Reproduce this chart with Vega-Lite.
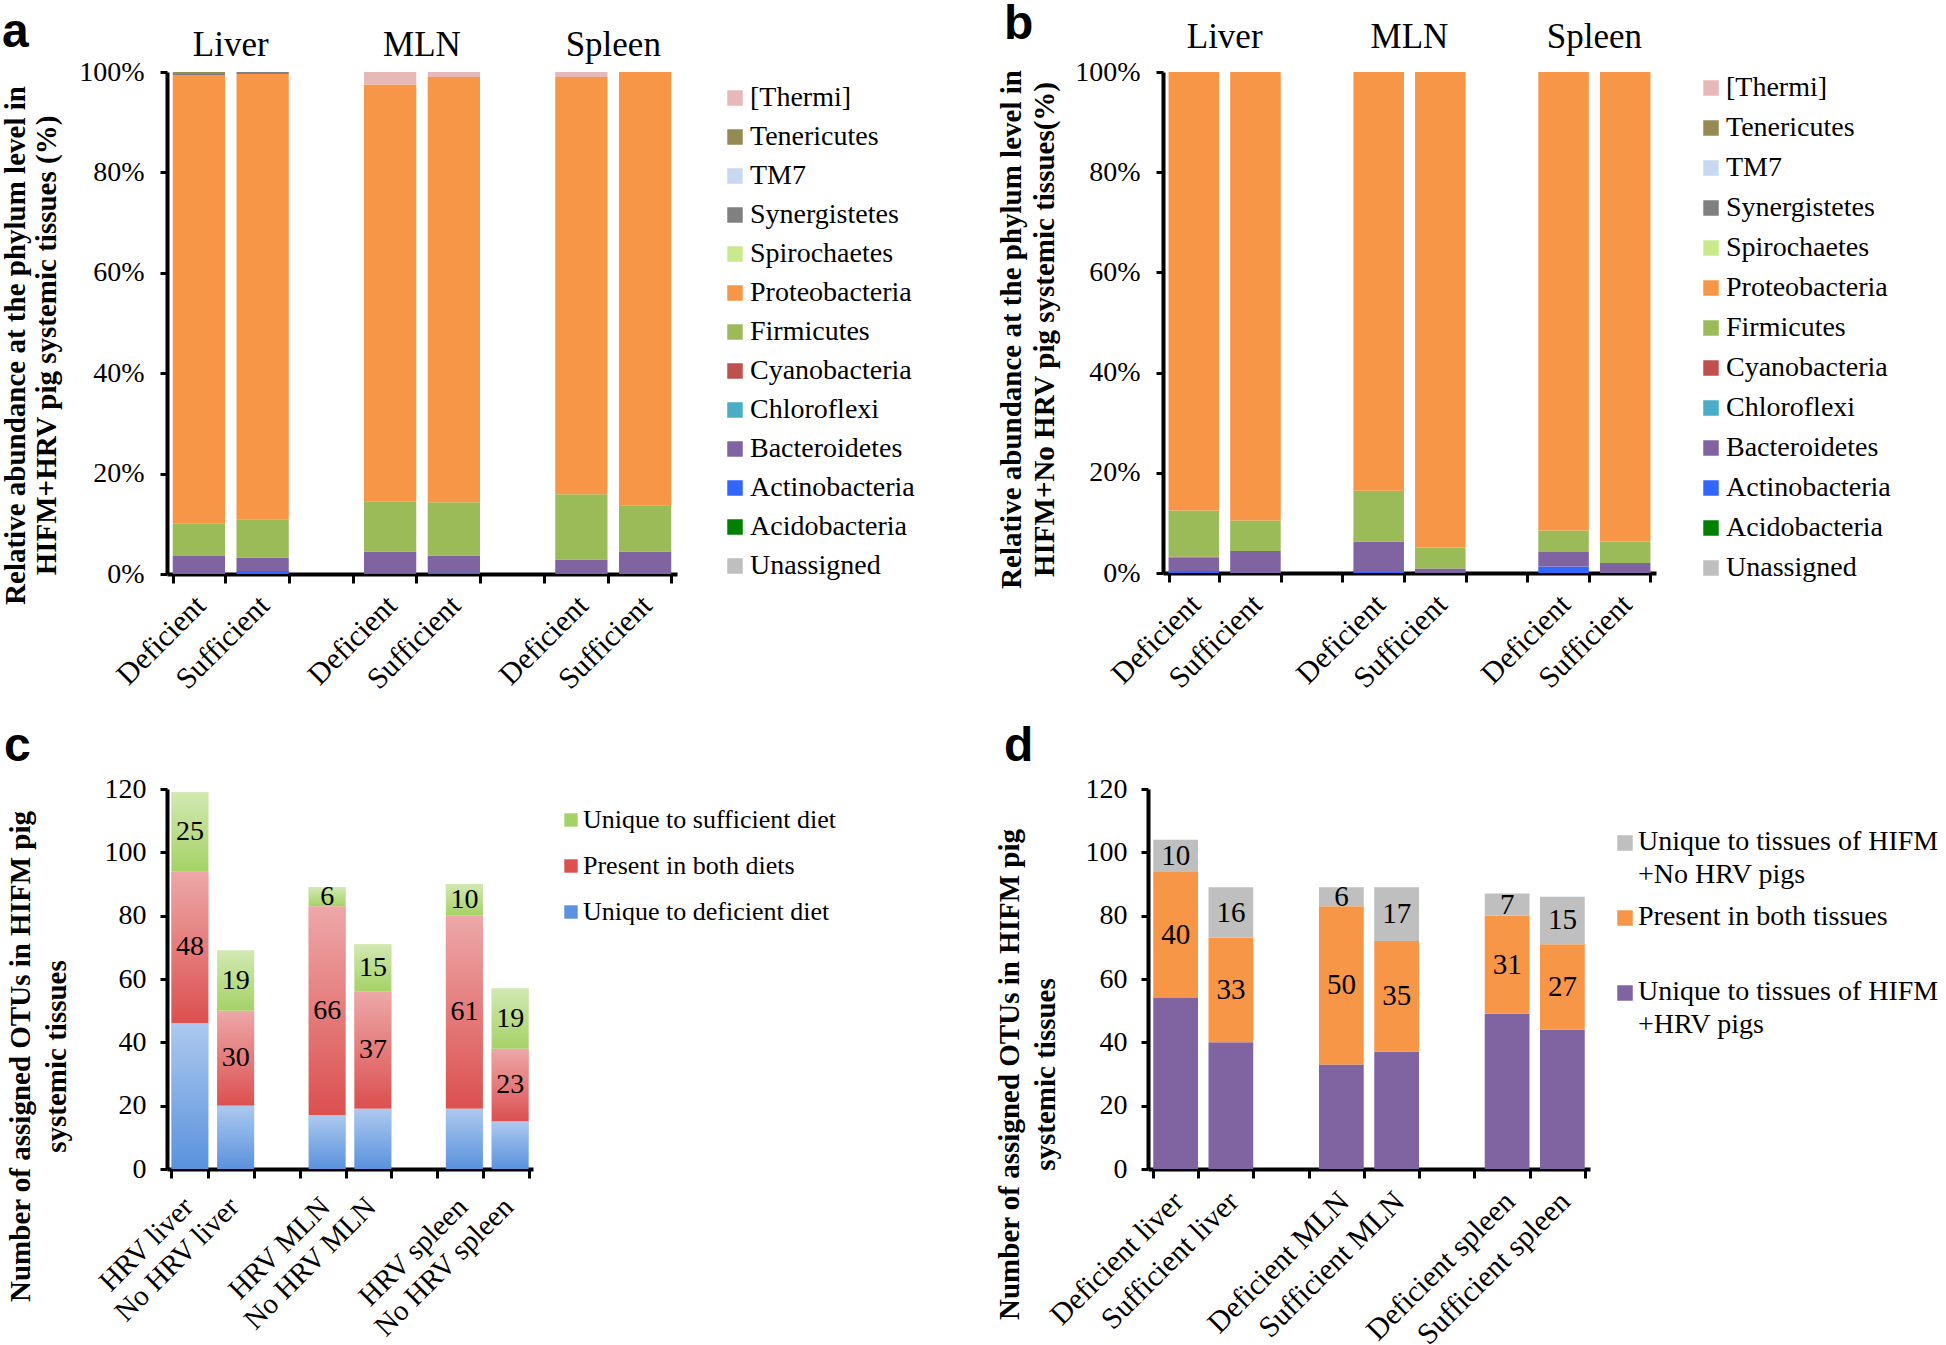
{
  "$schema": "https://vega.github.io/schema/vega-lite/v6.json",
  "padding": 0,
  "background": "white",
  "config": {
    "view": {"stroke": null},
    "font": "Liberation Serif",
    "axis": {"grid": false, "domainColor": "#000", "tickColor": "#000", "labelColor": "#000", "titleColor": "#000", "labelFont": "Liberation Serif", "titleFont": "Liberation Serif", "labelLimit": 0},
    "legend": {"title": null, "symbolType": "square", "symbolStrokeWidth": 0, "labelFont": "Liberation Serif", "labelColor": "#000", "labelLimit": 0},
    "title": {"font": "Liberation Sans", "fontSize": 48, "fontWeight": "bold", "anchor": "start", "frame": "group", "offset": 0, "color": "#000", "baseline": "top"}
  },
  "spacing": 28,
  "resolve": {"scale": {"color": "independent", "x": "independent", "y": "independent"}, "legend": {"color": "independent"}},
  "vconcat": [
    {
      "resolve": {"scale": {"color": "independent", "x": "independent", "y": "independent"}, "legend": {"color": "independent"}},
      "hconcat": [
        {
          "width": 510, "height": 502,
          "title": {"text": "a", "dx": -165, "dy": 33},
          "data": {"values": [
            {"slot": "Liver Deficient", "phylum": "Bacteroidetes", "v": 3.6, "k": 4},
            {"slot": "Liver Deficient", "phylum": "Firmicutes", "v": 6.5, "k": 7},
            {"slot": "Liver Deficient", "phylum": "Proteobacteria", "v": 89.3, "k": 8},
            {"slot": "Liver Deficient", "phylum": "Synergistetes", "v": 0.2, "k": 10},
            {"slot": "Liver Deficient", "phylum": "Tenericutes", "v": 0.4, "k": 12},
            {"slot": "Liver Sufficient", "phylum": "Actinobacteria", "v": 0.6, "k": 3},
            {"slot": "Liver Sufficient", "phylum": "Bacteroidetes", "v": 2.7, "k": 4},
            {"slot": "Liver Sufficient", "phylum": "Firmicutes", "v": 7.6, "k": 7},
            {"slot": "Liver Sufficient", "phylum": "Proteobacteria", "v": 88.7, "k": 8},
            {"slot": "Liver Sufficient", "phylum": "Synergistetes", "v": 0.4, "k": 10},
            {"slot": "MLN Deficient", "phylum": "Actinobacteria", "v": 0.2, "k": 3},
            {"slot": "MLN Deficient", "phylum": "Bacteroidetes", "v": 4.3, "k": 4},
            {"slot": "MLN Deficient", "phylum": "Firmicutes", "v": 10.0, "k": 7},
            {"slot": "MLN Deficient", "phylum": "Proteobacteria", "v": 83.0, "k": 8},
            {"slot": "MLN Deficient", "phylum": "[Thermi]", "v": 2.5, "k": 13},
            {"slot": "MLN Sufficient", "phylum": "Actinobacteria", "v": 0.3, "k": 3},
            {"slot": "MLN Sufficient", "phylum": "Bacteroidetes", "v": 3.4, "k": 4},
            {"slot": "MLN Sufficient", "phylum": "Firmicutes", "v": 10.6, "k": 7},
            {"slot": "MLN Sufficient", "phylum": "Proteobacteria", "v": 84.7, "k": 8},
            {"slot": "MLN Sufficient", "phylum": "[Thermi]", "v": 1.0, "k": 13},
            {"slot": "Spleen Deficient", "phylum": "Bacteroidetes", "v": 2.9, "k": 4},
            {"slot": "Spleen Deficient", "phylum": "Firmicutes", "v": 13.0, "k": 7},
            {"slot": "Spleen Deficient", "phylum": "Proteobacteria", "v": 83.1, "k": 8},
            {"slot": "Spleen Deficient", "phylum": "[Thermi]", "v": 1.0, "k": 13},
            {"slot": "Spleen Sufficient", "phylum": "Bacteroidetes", "v": 4.5, "k": 4},
            {"slot": "Spleen Sufficient", "phylum": "Firmicutes", "v": 9.2, "k": 7},
            {"slot": "Spleen Sufficient", "phylum": "Proteobacteria", "v": 86.3, "k": 8}
          ]},
          "layer": [
            {
              "mark": {"type": "bar"},
              "encoding": {
                "x": {"field": "slot", "type": "nominal",
                  "scale": {"domain": ["Liver Deficient", "Liver Sufficient", "gap1", "MLN Deficient", "MLN Sufficient", "gap2", "Spleen Deficient", "Spleen Sufficient"], "paddingInner": 0.18, "paddingOuter": 0.09},
                  "axis": {"title": null, "labelExpr": "(datum.value == 'Liver Deficient' || datum.value == 'MLN Deficient' || datum.value == 'Spleen Deficient') ? 'Deficient' : (datum.value == 'Liver Sufficient' || datum.value == 'MLN Sufficient' || datum.value == 'Spleen Sufficient') ? 'Sufficient' : ''", "labelAngle": -45, "labelFontSize": 30, "labelPadding": 7, "labelOffset": -9, "tickBand": "extent", "tickSize": 9, "tickWidth": 3, "domainWidth": 4}},
                "y": {"field": "v", "type": "quantitative", "stack": "zero", "scale": {"domain": [0, 100], "nice": false},
                  "axis": {"values": [0, 20, 40, 60, 80, 100], "labelExpr": "datum.value + '%'", "labelFontSize": 28, "tickSize": 7, "tickWidth": 3, "domainWidth": 4, "labelPadding": 16,
                    "title": ["Relative abundance at the phylum level in", "HIFM+HRV pig systemic tissues (%)"], "titleFontSize": 29, "titleFontWeight": "bold", "titleLineHeight": 31, "titleX": -137, "titleY": 273, "titleAngle": -90, "titleBaseline": "bottom", "titleAlign": "center"}},
                "color": {"field": "phylum", "type": "nominal",
                  "scale": {"domain": ["[Thermi]", "Tenericutes", "TM7", "Synergistetes", "Spirochaetes", "Proteobacteria", "Firmicutes", "Cyanobacteria", "Chloroflexi", "Bacteroidetes", "Actinobacteria", "Acidobacteria", "Unassigned"],
                    "range": ["#E6B9B8", "#948A54", "#C6D9F1", "#808080", "#C8EA8C", "#F79646", "#9BBB59", "#C0504D", "#4BACC6", "#8064A2", "#3366FF", "#008000", "#BFBFBF"]},
                  "legend": {"orient": "none", "legendX": 554, "legendY": 12, "symbolSize": 240, "labelFontSize": 28, "labelOffset": 1, "rowPadding": 11}},
                "order": {"field": "k", "type": "quantitative"}
              }
            },
            {
              "data": {"values": [{"slot": "Liver Deficient", "g": "Liver"}, {"slot": "MLN Deficient", "g": "MLN"}, {"slot": "Spleen Deficient", "g": "Spleen"}]},
              "mark": {"type": "text", "fontSize": 35, "font": "Liberation Serif", "baseline": "middle", "align": "center", "color": "#000"},
              "encoding": {
                "x": {"field": "slot", "type": "nominal", "bandPosition": 1.11},
                "y": {"datum": 105.4, "type": "quantitative"},
                "text": {"field": "g"}
              }
            }
          ]
        },
        {
          "width": 493, "height": 501,
          "title": {"text": "b", "dx": -159, "dy": 33},
          "data": {"values": [
            {"slot": "Liver Deficient", "phylum": "Actinobacteria", "v": 0.4, "k": 3},
            {"slot": "Liver Deficient", "phylum": "Bacteroidetes", "v": 2.7, "k": 4},
            {"slot": "Liver Deficient", "phylum": "Cyanobacteria", "v": 0.2, "k": 6},
            {"slot": "Liver Deficient", "phylum": "Firmicutes", "v": 9.2, "k": 7},
            {"slot": "Liver Deficient", "phylum": "Proteobacteria", "v": 87.5, "k": 8},
            {"slot": "Liver Sufficient", "phylum": "Bacteroidetes", "v": 4.2, "k": 4},
            {"slot": "Liver Sufficient", "phylum": "Cyanobacteria", "v": 0.2, "k": 6},
            {"slot": "Liver Sufficient", "phylum": "Firmicutes", "v": 6.1, "k": 7},
            {"slot": "Liver Sufficient", "phylum": "Proteobacteria", "v": 89.5, "k": 8},
            {"slot": "MLN Deficient", "phylum": "Actinobacteria", "v": 0.3, "k": 3},
            {"slot": "MLN Deficient", "phylum": "Bacteroidetes", "v": 6.0, "k": 4},
            {"slot": "MLN Deficient", "phylum": "Firmicutes", "v": 10.1, "k": 7},
            {"slot": "MLN Deficient", "phylum": "Proteobacteria", "v": 83.6, "k": 8},
            {"slot": "MLN Sufficient", "phylum": "Bacteroidetes", "v": 0.9, "k": 4},
            {"slot": "MLN Sufficient", "phylum": "Firmicutes", "v": 4.2, "k": 7},
            {"slot": "MLN Sufficient", "phylum": "Proteobacteria", "v": 94.9, "k": 8},
            {"slot": "Spleen Deficient", "phylum": "Actinobacteria", "v": 1.3, "k": 3},
            {"slot": "Spleen Deficient", "phylum": "Bacteroidetes", "v": 2.9, "k": 4},
            {"slot": "Spleen Deficient", "phylum": "Firmicutes", "v": 4.3, "k": 7},
            {"slot": "Spleen Deficient", "phylum": "Proteobacteria", "v": 91.5, "k": 8},
            {"slot": "Spleen Sufficient", "phylum": "Bacteroidetes", "v": 2.0, "k": 4},
            {"slot": "Spleen Sufficient", "phylum": "Firmicutes", "v": 4.3, "k": 7},
            {"slot": "Spleen Sufficient", "phylum": "Proteobacteria", "v": 93.7, "k": 8}
          ]},
          "layer": [
            {
              "mark": {"type": "bar"},
              "encoding": {
                "x": {"field": "slot", "type": "nominal",
                  "scale": {"domain": ["Liver Deficient", "Liver Sufficient", "gap1", "MLN Deficient", "MLN Sufficient", "gap2", "Spleen Deficient", "Spleen Sufficient"], "paddingInner": 0.18, "paddingOuter": 0.09},
                  "axis": {"title": null, "labelExpr": "(datum.value == 'Liver Deficient' || datum.value == 'MLN Deficient' || datum.value == 'Spleen Deficient') ? 'Deficient' : (datum.value == 'Liver Sufficient' || datum.value == 'MLN Sufficient' || datum.value == 'Spleen Sufficient') ? 'Sufficient' : ''", "labelAngle": -45, "labelFontSize": 30, "labelPadding": 7, "labelOffset": -9, "tickBand": "extent", "tickSize": 9, "tickWidth": 3, "domainWidth": 4}},
                "y": {"field": "v", "type": "quantitative", "stack": "zero", "scale": {"domain": [0, 100], "nice": false},
                  "axis": {"values": [0, 20, 40, 60, 80, 100], "labelExpr": "datum.value + '%'", "labelFontSize": 28, "tickSize": 7, "tickWidth": 3, "domainWidth": 4, "labelPadding": 16,
                    "title": ["Relative abundance at the phylum level in", "HIFM+No HRV pig systemic tissues(%)"], "titleFontSize": 29, "titleFontWeight": "bold", "titleLineHeight": 33, "titleX": -137, "titleY": 257, "titleAngle": -90, "titleBaseline": "bottom", "titleAlign": "center"}},
                "color": {"field": "phylum", "type": "nominal",
                  "scale": {"domain": ["[Thermi]", "Tenericutes", "TM7", "Synergistetes", "Spirochaetes", "Proteobacteria", "Firmicutes", "Cyanobacteria", "Chloroflexi", "Bacteroidetes", "Actinobacteria", "Acidobacteria", "Unassigned"],
                    "range": ["#E6B9B8", "#948A54", "#C6D9F1", "#808080", "#C8EA8C", "#F79646", "#9BBB59", "#C0504D", "#4BACC6", "#8064A2", "#3366FF", "#008000", "#BFBFBF"]},
                  "legend": {"orient": "none", "legendX": 534, "legendY": 2, "symbolSize": 240, "labelFontSize": 28, "labelOffset": 1, "rowPadding": 12}},
                "order": {"field": "k", "type": "quantitative"}
              }
            },
            {
              "data": {"values": [{"slot": "Liver Deficient", "g": "Liver"}, {"slot": "MLN Deficient", "g": "MLN"}, {"slot": "Spleen Deficient", "g": "Spleen"}]},
              "mark": {"type": "text", "fontSize": 35, "font": "Liberation Serif", "baseline": "middle", "align": "center", "color": "#000"},
              "encoding": {
                "x": {"field": "slot", "type": "nominal", "bandPosition": 1.11},
                "y": {"datum": 107, "type": "quantitative"},
                "text": {"field": "g"}
              }
            }
          ]
        }
      ],
      "spacing": 486,
      "bounds": "flush"
    },
    {
      "resolve": {"scale": {"color": "independent", "x": "independent", "y": "independent"}, "legend": {"color": "independent"}},
      "hconcat": [
        {
          "width": 366, "height": 380,
          "title": {"text": "c", "dx": -163},
          "data": {"values": [
            {"slot": "HRV liver", "cat": "Unique to deficient diet", "n": 46, "k": 1},
            {"slot": "HRV liver", "cat": "Present in both diets", "n": 48, "k": 2},
            {"slot": "HRV liver", "cat": "Unique to sufficient diet", "n": 25, "k": 3},
            {"slot": "No HRV liver", "cat": "Unique to deficient diet", "n": 20, "k": 1},
            {"slot": "No HRV liver", "cat": "Present in both diets", "n": 30, "k": 2},
            {"slot": "No HRV liver", "cat": "Unique to sufficient diet", "n": 19, "k": 3},
            {"slot": "HRV MLN", "cat": "Unique to deficient diet", "n": 17, "k": 1},
            {"slot": "HRV MLN", "cat": "Present in both diets", "n": 66, "k": 2},
            {"slot": "HRV MLN", "cat": "Unique to sufficient diet", "n": 6, "k": 3},
            {"slot": "No HRV MLN", "cat": "Unique to deficient diet", "n": 19, "k": 1},
            {"slot": "No HRV MLN", "cat": "Present in both diets", "n": 37, "k": 2},
            {"slot": "No HRV MLN", "cat": "Unique to sufficient diet", "n": 15, "k": 3},
            {"slot": "HRV spleen", "cat": "Unique to deficient diet", "n": 19, "k": 1},
            {"slot": "HRV spleen", "cat": "Present in both diets", "n": 61, "k": 2},
            {"slot": "HRV spleen", "cat": "Unique to sufficient diet", "n": 10, "k": 3},
            {"slot": "No HRV spleen", "cat": "Unique to deficient diet", "n": 15, "k": 1},
            {"slot": "No HRV spleen", "cat": "Present in both diets", "n": 23, "k": 2},
            {"slot": "No HRV spleen", "cat": "Unique to sufficient diet", "n": 19, "k": 3}
          ]},
          "transform": [{"stack": "n", "groupby": ["slot"], "sort": [{"field": "k", "order": "ascending"}], "as": ["lo", "hi"]}],
          "layer": [
            {
              "mark": {"type": "bar"},
              "encoding": {
                "x": {"field": "slot", "type": "nominal",
                  "scale": {"domain": ["HRV liver", "No HRV liver", "gap1", "HRV MLN", "No HRV MLN", "gap2", "HRV spleen", "No HRV spleen"], "paddingInner": 0.19, "paddingOuter": 0.095},
                  "axis": {"title": null, "labelExpr": "(datum.value == 'gap1' || datum.value == 'gap2' || !datum.value) ? '' : datum.value", "labelAngle": -45, "labelFontSize": 29, "labelPadding": 14, "labelOffset": -12, "tickBand": "extent", "tickSize": 9, "tickWidth": 3, "domainWidth": 4}},
                "y": {"field": "hi", "type": "quantitative", "scale": {"domain": [0, 120], "nice": false},
                  "axis": {"values": [0, 20, 40, 60, 80, 100, 120], "labelFontSize": 28, "tickSize": 7, "tickWidth": 3, "domainWidth": 4, "labelPadding": 14,
                    "title": ["Number of assigned OTUs in HIFM pig", "systemic tissues"], "titleFontSize": 29, "titleFontWeight": "bold", "titleLineHeight": 36, "titleX": -132, "titleY": 267, "titleAngle": -90, "titleBaseline": "bottom", "titleAlign": "center"}},
                "y2": {"field": "lo"},
                "color": {"field": "cat", "type": "nominal",
                  "scale": {"domain": ["Unique to sufficient diet", "Present in both diets", "Unique to deficient diet"], "range": ["#A5D266", "#DC5050", "#5A92DE"]},
                  "legend": {"orient": "none", "legendX": 391, "legendY": 18, "symbolSize": 180, "labelFontSize": 26, "labelOffset": -1, "rowPadding": 20}}
              }
            },
            {
              "mark": {"type": "bar", "fill": {"gradient": "linear", "x1": 0, "y1": 0, "x2": 0, "y2": 1, "stops": [{"offset": 0, "color": "rgba(255,255,255,0.5)"}, {"offset": 1, "color": "rgba(255,255,255,0)"}]}},
              "encoding": {
                "x": {"field": "slot", "type": "nominal"},
                "y": {"field": "hi", "type": "quantitative"},
                "y2": {"field": "lo"}
              }
            },
            {
              "transform": [{"filter": "datum.k > 1"}, {"calculate": "(datum.lo + datum.hi) / 2", "as": "mid"}],
              "mark": {"type": "text", "fontSize": 28, "font": "Liberation Serif", "baseline": "middle", "align": "center", "color": "#000"},
              "encoding": {
                "x": {"field": "slot", "type": "nominal"},
                "y": {"field": "mid", "type": "quantitative"},
                "text": {"field": "n"}
              }
            }
          ]
        },
        {
          "width": 442, "height": 380,
          "title": {"text": "d", "dx": -144},
          "data": {"values": [
            {"slot": "Deficient liver", "cat": "Unique to tissues of HIFM +HRV pigs", "n": 54, "k": 1},
            {"slot": "Deficient liver", "cat": "Present in both tissues", "n": 40, "k": 2},
            {"slot": "Deficient liver", "cat": "Unique to tissues of HIFM +No HRV pigs", "n": 10, "k": 3},
            {"slot": "Sufficient liver", "cat": "Unique to tissues of HIFM +HRV pigs", "n": 40, "k": 1},
            {"slot": "Sufficient liver", "cat": "Present in both tissues", "n": 33, "k": 2},
            {"slot": "Sufficient liver", "cat": "Unique to tissues of HIFM +No HRV pigs", "n": 16, "k": 3},
            {"slot": "Deficient MLN", "cat": "Unique to tissues of HIFM +HRV pigs", "n": 33, "k": 1},
            {"slot": "Deficient MLN", "cat": "Present in both tissues", "n": 50, "k": 2},
            {"slot": "Deficient MLN", "cat": "Unique to tissues of HIFM +No HRV pigs", "n": 6, "k": 3},
            {"slot": "Sufficient MLN", "cat": "Unique to tissues of HIFM +HRV pigs", "n": 37, "k": 1},
            {"slot": "Sufficient MLN", "cat": "Present in both tissues", "n": 35, "k": 2},
            {"slot": "Sufficient MLN", "cat": "Unique to tissues of HIFM +No HRV pigs", "n": 17, "k": 3},
            {"slot": "Deficient spleen", "cat": "Unique to tissues of HIFM +HRV pigs", "n": 49, "k": 1},
            {"slot": "Deficient spleen", "cat": "Present in both tissues", "n": 31, "k": 2},
            {"slot": "Deficient spleen", "cat": "Unique to tissues of HIFM +No HRV pigs", "n": 7, "k": 3},
            {"slot": "Sufficient spleen", "cat": "Unique to tissues of HIFM +HRV pigs", "n": 44, "k": 1},
            {"slot": "Sufficient spleen", "cat": "Present in both tissues", "n": 27, "k": 2},
            {"slot": "Sufficient spleen", "cat": "Unique to tissues of HIFM +No HRV pigs", "n": 15, "k": 3}
          ]},
          "transform": [{"stack": "n", "groupby": ["slot"], "sort": [{"field": "k", "order": "ascending"}], "as": ["lo", "hi"]}],
          "layer": [
            {
              "mark": {"type": "bar"},
              "encoding": {
                "x": {"field": "slot", "type": "nominal",
                  "scale": {"domain": ["Deficient liver", "Sufficient liver", "gap1", "Deficient MLN", "Sufficient MLN", "gap2", "Deficient spleen", "Sufficient spleen"], "paddingInner": 0.19, "paddingOuter": 0.095},
                  "axis": {"title": null, "labelExpr": "(datum.value == 'gap1' || datum.value == 'gap2' || !datum.value) ? '' : datum.value", "labelAngle": -45, "labelFontSize": 30, "labelPadding": 8, "labelOffset": -8, "tickBand": "extent", "tickSize": 9, "tickWidth": 3, "domainWidth": 4}},
                "y": {"field": "hi", "type": "quantitative", "scale": {"domain": [0, 120], "nice": false},
                  "axis": {"values": [0, 20, 40, 60, 80, 100, 120], "labelFontSize": 28, "tickSize": 7, "tickWidth": 3, "domainWidth": 4, "labelPadding": 14,
                    "title": ["Number of assigned OTUs in HIFM pig", "systemic tissues"], "titleFontSize": 29, "titleFontWeight": "bold", "titleLineHeight": 36, "titleX": -124, "titleY": 285, "titleAngle": -90, "titleBaseline": "bottom", "titleAlign": "center"}},
                "y2": {"field": "lo"},
                "color": {"field": "cat", "type": "nominal",
                  "scale": {"domain": ["Unique to tissues of HIFM +No HRV pigs", "Present in both tissues", "Unique to tissues of HIFM +HRV pigs"], "range": ["#BFBFBF", "#F79646", "#8064A2"]},
                  "legend": {"orient": "none", "legendX": 463, "legendY": 40, "symbolSize": 240, "labelFontSize": 28, "labelOffset": -1, "rowPadding": 14, "labelBaseline": "top",
                    "labelExpr": "datum.label == 'Unique to tissues of HIFM +No HRV pigs' ? ['Unique to tissues of HIFM', '+No HRV pigs'] : datum.label == 'Unique to tissues of HIFM +HRV pigs' ? ['Unique to tissues of HIFM', '+HRV pigs'] : [datum.label, ' ']",
                    "encode": {"labels": {"update": {"dy": {"value": -15}, "lineHeight": {"value": 33}}}}}}
              }
            },
            {
              "transform": [{"filter": "datum.k > 1"}, {"calculate": "(datum.lo + datum.hi) / 2", "as": "mid"}],
              "mark": {"type": "text", "fontSize": 29, "font": "Liberation Serif", "baseline": "middle", "align": "center", "color": "#000"},
              "encoding": {
                "x": {"field": "slot", "type": "nominal"},
                "y": {"field": "mid", "type": "quantitative"},
                "text": {"field": "n"}
              }
            }
          ]
        }
      ],
      "spacing": 615,
      "bounds": "flush"
    }
  ]
}
